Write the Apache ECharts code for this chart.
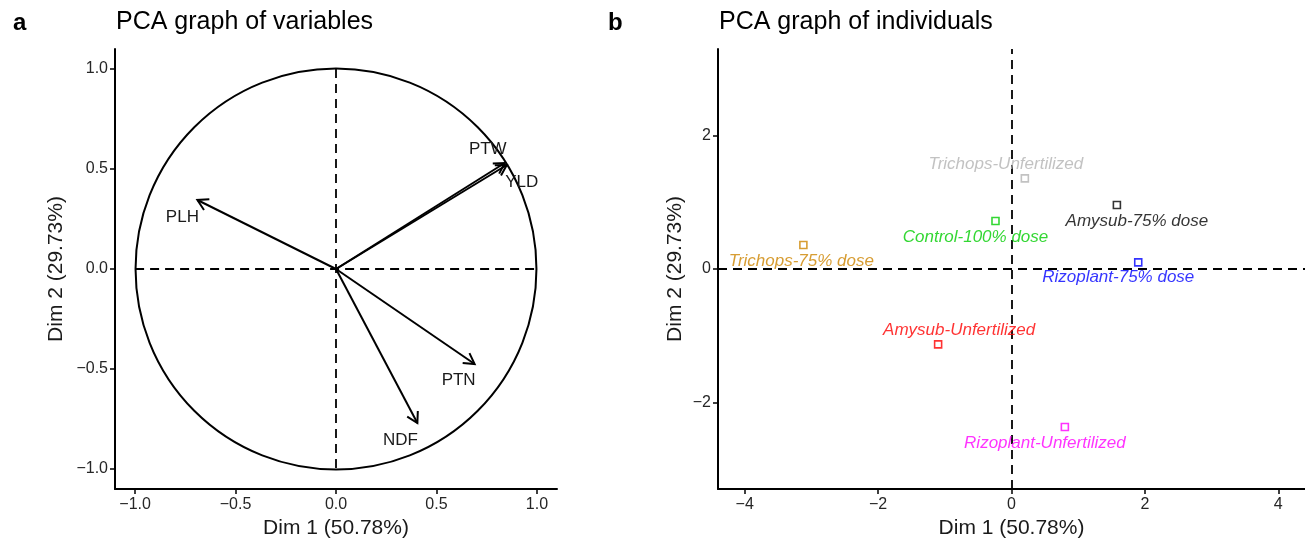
<!DOCTYPE html>
<html>
<head>
<meta charset="utf-8">
<script src="https://cdn.jsdelivr.net/npm/echarts@6/dist/echarts.min.js"></script>
<style>
  html, body { margin: 0; padding: 0; background: #fff; }
  #chart { width: 1305px; height: 541px; }
</style>
</head>
<body>
<div id="chart"></div>
<script>
// variables (correlation circle)
const varNames = ['PLH', 'PTW', 'YLD', 'PTN', 'NDF']
const varDim1 = [-0.69, 0.84, 0.85, 0.69, 0.405]
const varDim2 = [0.345, 0.53, 0.52, -0.475, -0.77]

// individuals
const indNames = ['Trichops-Unfertilized', 'Amysub-75% dose', 'Control-100% dose', 'Trichops-75% dose',
  'Rizoplant-75% dose', 'Amysub-Unfertilized', 'Rizoplant-Unfertilized']
const indDim1 = [0.2, 1.58, -0.24, -3.12, 1.9, -1.1, 0.8]
const indDim2 = [1.36, 0.96, 0.72, 0.36, 0.1, -1.13, -2.37]

const leftTicks = [-1, -0.5, 0, 0.5, 1]
const rightXTicks = [-4, -2, 0, 2, 4]
const rightYTicks = [-2, 0, 2]

// styling only
const varLabelOffset = { PLH: [-15, 17], PTW: [-17, -14], YLD: [15, 17], PTN: [-16, 16], NDF: [-17, 17] }
const indColors = ['#b3b3b3', '#000000', '#00cd00', '#cd8500', '#0000ff', '#ff0000', '#ff00ff']
const indLabelOffset = [[-19, -14], [20, 16], [-20, 16], [-2, 16], [-20, 15], [21, -14], [-20, 16]]

const FONT = '"Liberation Sans", Arial, sans-serif'
const fmt = v => (v < 0 ? '\u2212' : '') + Math.abs(v).toFixed(1)
const fmtInt = v => (v < 0 ? '\u2212' : '') + Math.abs(v)

const axisCommon = {
  axisLine: { show: true, onZero: false, lineStyle: { color: '#000', width: 2 } },
  axisTick: { show: true, length: 5, lineStyle: { color: '#000', width: 1.5 } },
  splitLine: { show: false },
  nameLocation: 'middle',
  nameTextStyle: { fontFamily: FONT, fontSize: 21, color: '#1a1a1a' }
}
const labelStyle = { fontFamily: FONT, fontSize: 16, color: '#262626' }

const chart = echarts.init(document.getElementById('chart'))

const option = {
  backgroundColor: '#fff',
  animation: false,
  title: [
    { text: 'a', left: 8, top: 6, textStyle: { fontFamily: FONT, fontSize: 24, fontWeight: 'bold', color: '#000' } },
    { text: 'PCA graph of variables', left: 111, top: 5, textStyle: { fontFamily: FONT, fontSize: 25, fontWeight: 'normal', color: '#000' } },
    { text: 'b', left: 603, top: 6, textStyle: { fontFamily: FONT, fontSize: 24, fontWeight: 'bold', color: '#000' } },
    { text: 'PCA graph of individuals', left: 714, top: 5, textStyle: { fontFamily: FONT, fontSize: 25, fontWeight: 'normal', color: '#000' } }
  ],
  grid: [
    { left: 115, top: 49, width: 442, height: 440, outerBoundsMode: 'none', containLabel: false },
    { left: 718, top: 49, width: 587, height: 440, outerBoundsMode: 'none', containLabel: false }
  ],
  xAxis: [
    Object.assign({}, axisCommon, {
      gridIndex: 0, type: 'value', min: -1.1, max: 1.1, name: 'Dim 1 (50.78%)', nameGap: 25,
      axisLabel: Object.assign({ customValues: leftTicks, formatter: fmt, margin: 8 }, labelStyle),
      axisTick: Object.assign({}, axisCommon.axisTick, { customValues: leftTicks })
    }),
    Object.assign({}, axisCommon, {
      gridIndex: 1, type: 'value', min: -4.4, max: 4.4, name: 'Dim 1 (50.78%)', nameGap: 25,
      axisLabel: Object.assign({ customValues: rightXTicks, formatter: fmtInt, margin: 8 }, labelStyle),
      axisTick: Object.assign({}, axisCommon.axisTick, { customValues: rightXTicks })
    })
  ],
  yAxis: [
    Object.assign({}, axisCommon, {
      gridIndex: 0, type: 'value', min: -1.1, max: 1.1, name: 'Dim 2 (29.73%)', nameGap: 48,
      axisLabel: Object.assign({ customValues: leftTicks, formatter: fmt, margin: 7 }, labelStyle),
      axisTick: Object.assign({}, axisCommon.axisTick, { customValues: leftTicks })
    }),
    Object.assign({}, axisCommon, {
      gridIndex: 1, type: 'value', min: -3.3, max: 3.3, name: 'Dim 2 (29.73%)', nameGap: 32,
      axisLabel: Object.assign({ customValues: rightYTicks, formatter: fmtInt, margin: 7 }, labelStyle),
      axisTick: Object.assign({}, axisCommon.axisTick, { customValues: rightYTicks })
    })
  ],
  series: [
    // correlation circle + dashed reference lines
    {
      type: 'custom',
      xAxisIndex: 0, yAxisIndex: 0,
      silent: true,
      data: [[0, 0]],
      renderItem: (params, api) => {
        const c = api.coord([0, 0])
        const s = api.size([1, 1])
        const r = (s[0] + s[1]) / 2
        const l = api.coord([-1, 0]), rt = api.coord([1, 0])
        const tp = api.coord([0, 1]), bt = api.coord([0, -1])
        const dash = { stroke: '#000', lineWidth: 1.8, lineDash: [9, 6], fill: null }
        return {
          type: 'group',
          children: [
            { type: 'circle', shape: { cx: c[0], cy: c[1], r: r }, style: { stroke: '#000', lineWidth: 2, fill: null } },
            { type: 'line', shape: { x1: l[0], y1: l[1], x2: rt[0], y2: rt[1] }, style: dash },
            { type: 'line', shape: { x1: tp[0], y1: tp[1], x2: bt[0], y2: bt[1] }, style: dash }
          ]
        }
      }
    },
    // variable arrows
    {
      type: 'custom',
      xAxisIndex: 0, yAxisIndex: 0,
      silent: true,
      data: varNames.map((n, i) => [varDim1[i], varDim2[i], i]),
      renderItem: (params, api) => {
        const o = api.coord([0, 0])
        const t = api.coord([api.value(0), api.value(1)])
        const name = varNames[api.value(2)]
        const off = varLabelOffset[name]
        const ang = Math.atan2(t[1] - o[1], t[0] - o[0])
        const L = 12, A = Math.PI / 6
        const p1 = [t[0] - L * Math.cos(ang - A), t[1] - L * Math.sin(ang - A)]
        const p2 = [t[0] - L * Math.cos(ang + A), t[1] - L * Math.sin(ang + A)]
        return {
          type: 'group',
          children: [
            { type: 'line', shape: { x1: o[0], y1: o[1], x2: t[0], y2: t[1] }, style: { stroke: '#000', lineWidth: 2 } },
            { type: 'polyline', shape: { points: [p1, t, p2] }, style: { stroke: '#000', lineWidth: 2, fill: null } },
            {
              type: 'text', x: t[0] + off[0], y: t[1] + off[1],
              style: { text: name, font: '17px ' + FONT, fill: '#1a1a1a', align: 'center', verticalAlign: 'middle' }
            }
          ]
        }
      }
    },
    // dashed zero lines in individuals panel
    {
      type: 'line',
      xAxisIndex: 1, yAxisIndex: 1,
      data: [],
      silent: true,
      markLine: {
        silent: true,
        symbol: 'none',
        label: { show: false },
        lineStyle: { color: '#000', width: 1.8, type: [9, 6] },
        data: [{ xAxis: 0 }, { yAxis: 0 }]
      }
    },
    // individuals
    {
      type: 'scatter',
      xAxisIndex: 1, yAxisIndex: 1,
      symbol: 'rect',
      symbolSize: 7,
      z: 5,
      data: indNames.map((n, i) => ({
        name: n,
        value: [indDim1[i], indDim2[i]],
        itemStyle: { color: 'rgba(0,0,0,0)', borderColor: indColors[i], borderWidth: 1.6 },
        label: {
          show: true,
          position: 'inside',
          offset: indLabelOffset[i],
          formatter: '{b}',
          color: indColors[i],
          fontFamily: FONT,
          fontSize: 17,
          fontStyle: 'italic'
        }
      }))
    }
  ]
}

chart.setOption(option)
</script>
</body>
</html>
